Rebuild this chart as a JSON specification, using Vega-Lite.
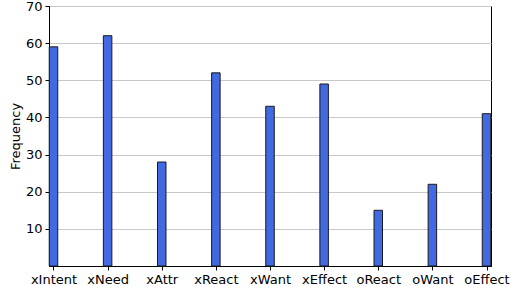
{
  "$schema": "https://vega.github.io/schema/vega-lite/v6.json",
  "width": 442,
  "height": 260,
  "autosize": {"type": "none"},
  "padding": {"left": 49, "top": 6, "right": 22, "bottom": 20},
  "background": "white",
  "config": {
    "font": "DejaVu Sans",
    "view": {"stroke": "black", "strokeWidth": 1},
    "axis": {
      "labelFont": "DejaVu Sans",
      "titleFont": "DejaVu Sans",
      "labelFontSize": 13,
      "titleFontSize": 13,
      "labelColor": "black",
      "titleColor": "black",
      "titleFontWeight": "normal",
      "domainColor": "black",
      "tickColor": "black",
      "tickSize": 4
    }
  },
  "data": {
    "values": [
      {"relation": "xIntent", "count": 59},
      {"relation": "xNeed", "count": 62},
      {"relation": "xAttr", "count": 28},
      {"relation": "xReact", "count": 52},
      {"relation": "xWant", "count": 43},
      {"relation": "xEffect", "count": 49},
      {"relation": "oReact", "count": 15},
      {"relation": "oWant", "count": 22},
      {"relation": "oEffect", "count": 41}
    ]
  },
  "mark": {"type": "bar", "size": 8.5, "color": "#4169E1", "stroke": "#1a1a1a", "strokeWidth": 1},
  "encoding": {
    "x": {
      "field": "relation",
      "type": "nominal",
      "sort": null,
      "scale": {"type": "point", "padding": 0.083},
      "axis": {"title": null, "labelAngle": 0, "grid": false, "labelPadding": 3}
    },
    "y": {
      "field": "count",
      "type": "quantitative",
      "scale": {"domain": [0, 70], "nice": false},
      "axis": {
        "title": "Frequency",
        "values": [10, 20, 30, 40, 50, 60, 70],
        "grid": true,
        "gridColor": "#c8c8c8",
        "gridWidth": 1,
        "titlePadding": 3,
        "labelPadding": 3
      }
    }
  }
}
